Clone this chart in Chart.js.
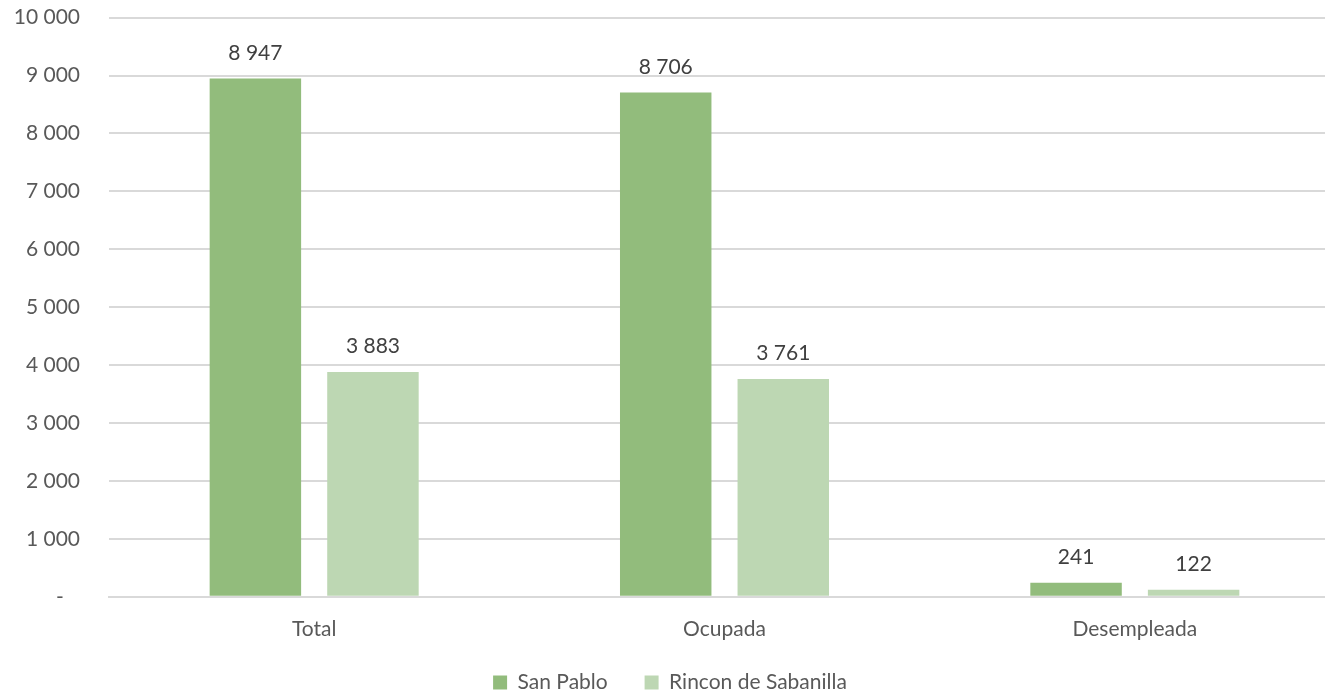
<!DOCTYPE html>
<html>
<head>
<meta charset="utf-8">
<script src="https://cdn.jsdelivr.net/npm/chart.js@4.4.1/dist/chart.umd.min.js"></script>
<style>
    html, body { margin: 0; padding: 0; background: #fff; overflow: hidden; }
    #wrap { width: 1340px; height: 751px; margin-top: -24px; }
</style>
</head>
<body>
<div id="wrap"><canvas id="chart"></canvas></div>
<script>
// Datos del gráfico
const categories = ["Total", "Ocupada", "Desempleada"];
const seriesNames = ["San Pablo", "Rincon de Sabanilla"];
const sanPablo = [8947, 8706, 241];
const rinconSabanilla = [3883, 3761, 122];
const yTicks = [0, 1000, 2000, 3000, 4000, 5000, 6000, 7000, 8000, 9000, 10000];

const FONT = "Lato, 'Open Sans', sans-serif";
const FONT_SIZE = 21;

// formato con espacio como separador de miles
function fmt(v) {
    return String(Math.round(v)).replace(/\B(?=(\d{3})+(?!\d))/g, " ");
}

// Etiquetas de datos encima de cada barra
const valueLabels = {
    id: "valueLabels",
    afterDatasetsDraw(chart) {
        const ctx = chart.ctx;
        ctx.save();
        ctx.font = FONT_SIZE + "px " + FONT;
        ctx.fillStyle = "#404040";
        ctx.textAlign = "center";
        ctx.textBaseline = "alphabetic";
        chart.data.datasets.forEach((ds, i) => {
            chart.getDatasetMeta(i).data.forEach((bar, j) => {
                ctx.fillText(fmt(ds.data[j]), bar.x, bar.y - 19);
            });
        });
        ctx.restore();
    }
};

new Chart(document.getElementById("chart"), {
    type: "bar",
    data: {
        labels: categories,
        datasets: [
            {
                label: seriesNames[0],
                data: sanPablo,
                backgroundColor: "#92BC7C",
                categoryPercentage: 0.573,
                barPercentage: 0.778
            },
            {
                label: seriesNames[1],
                data: rinconSabanilla,
                backgroundColor: "#BDD7B3",
                categoryPercentage: 0.573,
                barPercentage: 0.778
            }
        ]
    },
    options: {
        responsive: true,
        maintainAspectRatio: false,
        animation: false,
        layout: { padding: { top: 0, right: 0, bottom: 24, left: 0 } },
        plugins: {
            legend: {
                position: "bottom",
                labels: {
                    boxWidth: 14,
                    boxHeight: 14,
                    padding: 10,
                    color: "#595959",
                    font: { family: FONT, size: FONT_SIZE },
                    // más espacio entre los elementos de la leyenda
                    generateLabels(chart) {
                        const items = Chart.defaults.plugins.legend.labels.generateLabels(chart);
                        items.forEach((it, i) => {
                            if (i < items.length - 1) it.text += "     ";
                        });
                        return items;
                    }
                }
            },
            tooltip: { enabled: false }
        },
        scales: {
            x: {
                grid: { display: false, drawTicks: false },
                border: { display: true, color: "#D9D9D9", width: 2 },
                ticks: {
                    color: "#595959",
                    padding: 20,
                    font: { family: FONT, size: FONT_SIZE }
                }
            },
            y: {
                min: 0,
                max: 10000,
                afterBuildTicks(scale) {
                    scale.ticks = yTicks.map(v => ({ value: v }));
                },
                afterFit(scale) {
                    scale.width = 109;
                },
                grid: { color: "#D9D9D9", lineWidth: 2, drawTicks: false },
                border: { display: false },
                ticks: {
                    color: "#595959",
                    padding: 29,
                    font: { family: FONT, size: FONT_SIZE },
                    callback: v => v === 0 ? "-   " : fmt(v)
                }
            }
        }
    },
    plugins: [valueLabels]
});
</script>
</body>
</html>
